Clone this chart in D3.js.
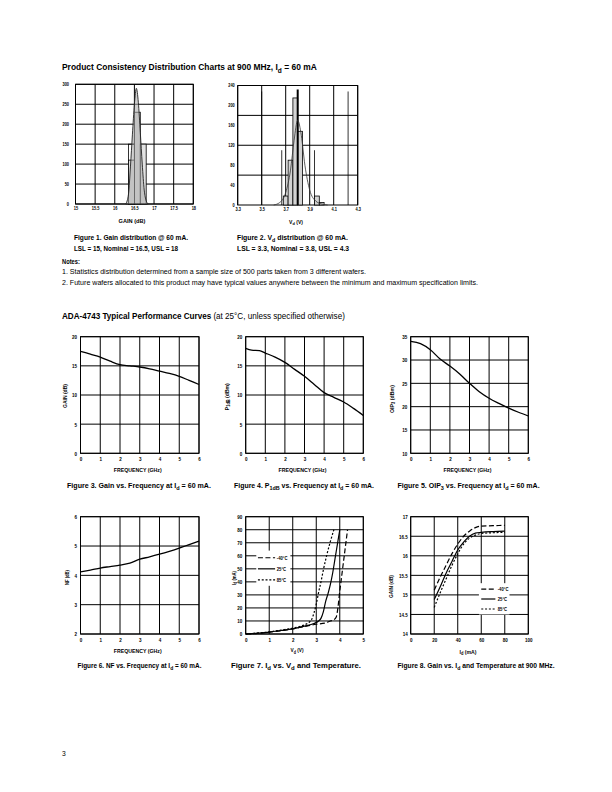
<!DOCTYPE html>
<html><head><meta charset="utf-8">
<script src="https://cdn.jsdelivr.net/npm/d3@7"></script>
<style>
body{margin:0;background:#fff}
svg{display:block}
</style></head><body>
<svg id="page" width="612" height="792"></svg>
<script>
// ---------- DATA ----------
// Figure 1: gain distribution
const gainBins = [[16.35,16.5,110],[16.5,16.65,230],[16.65,16.8,150]];
const gainOutlineBins = [[16.35,16.5,150]];
const gainCurve = [[16.28,0],[16.35,25],[16.40,95],[16.45,175],[16.50,250],[16.55,290],[16.60,255],[16.65,180],[16.70,100],[16.75,35],[16.80,8],[16.85,0]];
const gainXTicks = [15,15.5,16,16.5,17,17.5,18];
const gainYTicks = [0,50,100,150,200,250,300];
// Figure 2: Vd distribution
const vdBins = [[3.68,3.72,18],[3.72,3.76,90],[3.76,3.80,215],[3.80,3.84,148],[3.94,3.98,18],[3.98,4.02,5]];
const vdCurve = [[3.60,0],[3.65,5],[3.70,25],[3.74,70],[3.77,130],[3.80,170],[3.83,140],[3.86,80],[3.90,30],[3.95,8],[4.00,2],[4.05,0]];
const vdSpecLines = [[3.5,228],[3.667,110],[3.94,110],[4.22,228]];
const vdNominal = [[3.8,232]];
const vdXTicks = [3.3,3.5,3.7,3.9,4.1,4.3];
const vdYTicks = [0,40,80,120,160,200,240];
const vdYGrid = [60,120,180];
// Figures 3-6: vs frequency
const freqTicks = [0,1,2,3,4,5,6];
const gainVsFreq = [[0,17.5],[0.5,17.0],[1,16.5],[1.5,15.8],[2,15.2],[2.5,15.0],[3,14.8],[3.5,14.5],[4,14.1],[4.5,13.7],[5,13.2],[5.5,12.5],[6,11.8]];
const gainYTicksF3 = [0,5,10,15,20];
const p1dbVsFreq = [[0,18.0],[0.3,17.7],[0.7,17.6],[1,17.2],[1.5,16.5],[2,15.6],[2.5,14.4],[3,13.2],[3.5,11.8],[4,10.4],[4.5,9.6],[5,8.8],[5.5,7.7],[6,6.5]];
const p1dbYTicks = [0,5,10,15,20];
const oip3VsFreq = [[0,34.0],[0.5,33.5],[1,32.2],[1.5,30.2],[2,28.7],[2.5,27.0],[3,25.0],[3.5,23.2],[4,21.8],[4.5,20.7],[5,19.7],[5.5,18.8],[6,18.0]];
const oip3YTicks = [10,15,20,25,30,35];
const nfVsFreq = [[0,4.12],[0.5,4.18],[1,4.25],[1.5,4.3],[2,4.35],[2.5,4.42],[3,4.55],[3.5,4.63],[4,4.72],[4.5,4.82],[5,4.93],[5.5,5.05],[6,5.17]];
const nfYTicks = [2,3,4,5,6];
// Figure 7: Id vs Vd
const vdTicks = [0,1,2,3,4,5];
const idTicks = [0,10,20,30,40,50,60,70,80,90];
const idVdM40 = [[0,0],[0.5,0.5],[1,1.5],[1.5,2.5],[2,4],[2.5,5.8],[3,7.5],[3.4,8.5],[3.6,10],[3.75,11],[3.85,13],[3.92,20],[4.0,33],[4.05,40],[4.12,50],[4.19,60],[4.26,70],[4.33,80]];
const idVd25 = [[0,0],[0.5,0.6],[1,1.5],[1.5,2.7],[2,4],[2.5,6],[2.9,8],[3.1,10],[3.2,12],[3.3,17],[3.4,25],[3.5,31],[3.6,38],[3.7,47],[3.8,58],[3.9,69],[4.0,80]];
const idVd85 = [[0,0],[0.5,0.7],[1,1.6],[1.5,3],[2,4.5],[2.5,7],[2.7,9],[2.8,11],[2.9,16],[3.0,23],[3.1,32],[3.2,40],[3.3,49],[3.44,60],[3.6,71],[3.75,80]];
const tempLabels = ["-40°C","25°C","85°C"];
// Figure 8: Gain vs Id
const idXTicks = [0,20,40,60,80,100];
const gainIdYTicks = [14,14.5,15,15.5,16,16.5,17];
const gainIdM40 = [[20,15.12],[25,15.45],[30,15.75],[35,16.05],[40,16.3],[45,16.5],[50,16.63],[55,16.72],[60,16.76],[70,16.77],[80,16.78]];
const gainId25 = [[20,14.88],[25,15.2],[30,15.55],[35,15.85],[40,16.15],[45,16.35],[50,16.5],[55,16.58],[60,16.6],[70,16.62],[80,16.63]];
const gainId85 = [[20,14.68],[25,15.05],[30,15.4],[35,15.75],[40,16.05],[45,16.3],[50,16.45],[55,16.53],[60,16.57],[70,16.59],[80,16.6]];

// ---------- DRAWING ----------
const F = "'Liberation Sans', Arial, sans-serif";
const svg = d3.select('#page');

// text with optional horizontal condensing (sx) or a fitted width (w)
function rich(parent, x, y, parts, o) {
  const size = o.size, anchor = o.anchor || 'start';
  const t = parent.append('text').attr('font-family', F).attr('font-size', size)
    .attr('font-weight', o.weight || 'normal').attr('fill', '#000')
    .attr('text-anchor', anchor).attr('x', 0).attr('y', 0);
  parts.forEach(p => {
    const s = typeof p === 'string' ? {t: p} : p;
    const ts = t.append('tspan').text(s.t);
    if (s.sub) ts.attr('font-size', size * 0.78).attr('dy', size * 0.3);
    else if (s.back) ts.attr('dy', -size * 0.3);
    if (s.w) ts.attr('font-weight', s.w);
  });
  let sx = o.sx || 0.82;
  if (o.w) { const len = t.node().getComputedTextLength(); if (len > 0) sx = o.w / len; }
  t.attr('transform', `translate(${x},${y})` + (o.rotate ? ' rotate(-90)' : '') + ` scale(${sx},1)`);
  return t;
}
const sub = t => ({t, sub: true});
const back = t => ({t, back: true});

function chart(box, cfg) {
  const g = svg.append('g');
  const x = d3.scaleLinear().domain(cfg.xDomain).range([box.x0, box.x1]);
  const y = d3.scaleLinear().domain(cfg.yDomain).range([box.y1, box.y0]);
  g.selectAll(null).data(cfg.xGrid).join('line')
    .attr('x1', d => x(d)).attr('x2', d => x(d)).attr('y1', box.y0).attr('y2', box.y1)
    .attr('stroke', '#000').attr('stroke-width', 1);
  g.selectAll(null).data(cfg.yGrid).join('line')
    .attr('y1', d => y(d)).attr('y2', d => y(d)).attr('x1', box.x0).attr('x2', box.x1)
    .attr('stroke', '#000').attr('stroke-width', 1);
  g.append('rect').attr('x', box.x0).attr('y', box.y0).attr('width', box.x1 - box.x0)
    .attr('height', box.y1 - box.y0).attr('fill', 'none').attr('stroke', '#000').attr('stroke-width', 1);
  const fs = cfg.tickSize || 5.8, sx = cfg.tickSx || 0.78;
  const xPad = cfg.xPad || 3.5, yPad = cfg.yPad || 3.5;
  const xa = d3.axisBottom(x).tickValues(cfg.xTicks).tickSize(0).tickPadding(xPad)
    .tickFormat(cfg.xFmt || (d => d));
  const ya = d3.axisLeft(y).tickValues(cfg.yTicks).tickSize(0).tickPadding(yPad)
    .tickFormat(cfg.yFmt || (d => d));
  [[xa, `translate(0,${box.y1})`, false], [ya, 'translate(' + box.x0 + ',0)', true]].forEach(([a, tr, left]) => {
    const ag = g.append('g').attr('transform', tr).call(a);
    ag.select('.domain').remove();
    const txt = ag.selectAll('text').attr('font-family', F).attr('font-size', fs).attr('font-weight', 'bold')
      .attr('fill', '#000').attr('transform', `scale(${sx},1)`);
    if (left) txt.attr('x', -yPad / sx);
  });
  return {g, x, y};
}

function curve(c, data, dash, w) {
  c.g.append('path').datum(data)
    .attr('d', d3.line().x(d => c.x(d[0])).y(d => c.y(d[1])).curve(d3.curveMonotoneX))
    .attr('fill', 'none').attr('stroke', '#000').attr('stroke-width', w || 1.3)
    .attr('stroke-dasharray', dash || null);
}

const CAP = {size: 7.2, weight: 'bold'};
const AX = {size: 6, weight: 'bold'};

// ---- Heading ----
rich(svg, 62, 70, ['Product Consistency Distribution Charts at 900 MHz, I', sub('d'), back(' = 60 mA')], {size: 8.8, weight: 'bold', w: 255});

// ---- Figure 1 ----
{
  const box = {x0: 75.5, x1: 193.3, y0: 84.3, y1: 204};
  const c = chart(box, {xDomain: [15, 18], yDomain: [0, 300], xGrid: gainXTicks, yGrid: gainYTicks,
    xTicks: gainXTicks, yTicks: gainYTicks, tickSize: 4.6, tickSx: 0.85, xPad: 3, yPad: 6.5});
  c.g.selectAll(null).data(gainOutlineBins).join('rect')
    .attr('x', d => c.x(d[0])).attr('width', d => c.x(d[1]) - c.x(d[0]))
    .attr('y', d => c.y(d[2])).attr('height', d => c.y(0) - c.y(d[2]))
    .attr('fill', 'none').attr('stroke', '#000').attr('stroke-width', 0.8);
  c.g.selectAll(null).data(gainBins).join('rect')
    .attr('x', d => c.x(d[0])).attr('width', d => c.x(d[1]) - c.x(d[0]))
    .attr('y', d => c.y(d[2])).attr('height', d => c.y(0) - c.y(d[2]))
    .attr('fill', '#e2e2e2').attr('stroke', '#000').attr('stroke-width', 0.8);
  c.g.append('path').datum(gainCurve)
    .attr('d', d3.area().x(d => c.x(d[0])).y0(c.y(0)).y1(d => c.y(d[1])).curve(d3.curveMonotoneX))
    .attr('fill', '#aaa').attr('fill-opacity', 0.55).attr('stroke', '#222').attr('stroke-width', 0.9);
  rich(svg, 132, 223, ['GAIN (dB)'], {size: 5, weight: 'bold', anchor: 'middle', w: 27});
  rich(svg, 74, 240, ['Figure 1.  Gain distribution @ 60 mA.'], {...CAP, w: 114});
  rich(svg, 74, 250.5, ['LSL = 15, Nominal = 16.5, USL = 18'], {...CAP, w: 104});
}

// ---- Figure 2 ----
{
  const box = {x0: 237.7, x1: 357.7, y0: 85.5, y1: 205};
  const c = chart(box, {xDomain: [3.3, 4.3], yDomain: [0, 240], xGrid: vdXTicks, yGrid: vdYGrid,
    xTicks: vdXTicks, yTicks: vdYTicks, tickSize: 4.6, tickSx: 0.85, xPad: 3, yPad: 3, xFmt: d3.format('.1f')});
  c.g.selectAll(null).data(vdSpecLines).join('line')
    .attr('x1', d => c.x(d[0])).attr('x2', d => c.x(d[0])).attr('y1', d => c.y(d[1])).attr('y2', c.y(0))
    .attr('stroke', '#000').attr('stroke-width', 0.8);
  c.g.selectAll(null).data(vdBins).join('rect')
    .attr('x', d => c.x(d[0])).attr('width', d => c.x(d[1]) - c.x(d[0]))
    .attr('y', d => c.y(d[2])).attr('height', d => c.y(0) - c.y(d[2]))
    .attr('fill', '#d4d4d4').attr('stroke', '#000').attr('stroke-width', 0.8);
  c.g.selectAll(null).data(vdNominal).join('line')
    .attr('x1', d => c.x(d[0])).attr('x2', d => c.x(d[0])).attr('y1', d => c.y(d[1])).attr('y2', c.y(0))
    .attr('stroke', '#000').attr('stroke-width', 2);
  c.g.append('path').datum(vdCurve)
    .attr('d', d3.line().x(d => c.x(d[0])).y(d => c.y(d[1])).curve(d3.curveMonotoneX))
    .attr('fill', 'none').attr('stroke', '#333').attr('stroke-width', 0.8);
  rich(svg, 296, 223.5, ['V', sub('d'), back(' (V)')], {size: 5, weight: 'bold', anchor: 'middle', w: 14});
  rich(svg, 237, 240, ['Figure 2.  V', sub('d'), back(' distribution @ 60 mA.')], {...CAP, w: 111});
  rich(svg, 237, 250.5, ['LSL = 3.3, Nominal = 3.8, USL = 4.3'], {...CAP, w: 112});
}

// ---- Notes ----
rich(svg, 62, 263.5, ['Notes:'], {size: 6.8, weight: 'bold', sx: 0.85});
rich(svg, 62, 274, ['1.  Statistics distribution determined from a sample size of 500 parts taken from 3 different wafers.'], {size: 6.8, w: 304});
rich(svg, 62, 285, ['2.  Future wafers allocated to this product may have typical values anywhere between the minimum and maximum specification limits.'], {size: 6.8, w: 416});

rich(svg, 62, 319, [{t: 'ADA-4743 Typical Performance Curves', w: 'bold'}, ' (at 25°C, unless specified otherwise)'], {size: 8.6, w: 283});

// ---- Figures 3-6 ----
function freqChart(box, yDomain, yTicks, data, yTitle, yTitleX, yTitleY, yTitleW, caption, capX, capY, capW) {
  const c = chart(box, {xDomain: [0, 6], yDomain, xGrid: freqTicks, yGrid: yTicks,
    xTicks: freqTicks, yTicks, xPad: 4, yPad: 3.5});
  curve(c, data);
  rich(svg, (box.x0 + box.x1) / 2 - 2, box.y1 + 18.5, ['FREQUENCY (GHz)'], {...AX, anchor: 'middle', w: 48});
  rich(svg, yTitleX, yTitleY, yTitle, {...AX, anchor: 'middle', rotate: true, w: yTitleW});
  rich(svg, capX, capY, caption, {...CAP, w: capW});
}
freqChart({x0: 80.5, x1: 199, y0: 336.7, y1: 453.3}, [0, 20], gainYTicksF3, gainVsFreq,
  ['GAIN (dB)'], 66.5, 396, 24, ['Figure 3.  Gain vs. Frequency at I', sub('d'), back(' = 60 mA.')], 67, 487.5, 144);
freqChart({x0: 245.7, x1: 363.3, y0: 336.7, y1: 453.3}, [0, 20], p1dbYTicks, p1dbVsFreq,
  ['P', sub('1dB'), back(' (dBm)')], 228.5, 396.7, 27, ['Figure 4.  P', sub('1dB'), back(' vs. Frequency at I'), sub('d'), back(' = 60 mA.')], 234, 487.5, 140);
freqChart({x0: 410.7, x1: 528.3, y0: 336.7, y1: 453.3}, [10, 35], oip3YTicks, oip3VsFreq,
  ['OIP', sub('3'), back(' (dBm)')], 393.5, 399, 28, ['Figure 5.  OIP', sub('3'), back(' vs. Frequency at I'), sub('d'), back(' = 60 mA.')], 397.5, 487.5, 142);
freqChart({x0: 80.5, x1: 199, y0: 516.7, y1: 634}, [2, 6], nfYTicks, nfVsFreq,
  ['NF (dB)'], 68.5, 577.5, 15, ['Figure 6.  NF vs. Frequency at I', sub('d'), back(' = 60 mA.')], 77.5, 667.5, 124);

// ---- Figure 7 ----
{
  const box = {x0: 245.7, x1: 363.3, y0: 516.7, y1: 634};
  const c = chart(box, {xDomain: [0, 5], yDomain: [0, 90], xGrid: vdTicks, yGrid: idTicks,
    xTicks: vdTicks, yTicks: idTicks, xPad: 4, yPad: 3.5});
  const dashes = ['5,2.5', null, '2,1.8'];
  [idVdM40, idVd25, idVd85].forEach((d, i) => curve(c, d, dashes[i], 1.2));
  c.g.append('rect').attr('x', c.x(0.45)).attr('y', c.y(64)).attr('width', c.x(1.9) - c.x(0.45))
    .attr('height', c.y(37) - c.y(64)).attr('fill', '#fff');
  tempLabels.forEach((t, i) => {
    const yy = c.y(58.5 - i * 8.5);
    c.g.append('line').attr('x1', c.x(0.52)).attr('x2', c.x(1.25)).attr('y1', yy).attr('y2', yy)
      .attr('stroke', '#000').attr('stroke-width', 1.2).attr('stroke-dasharray', dashes[i]);
    rich(c.g, c.x(1.32), yy + 2, [t], {size: 5.6, weight: 'bold', sx: 0.75});
  });
  rich(svg, 297, box.y1 + 18, ['V', sub('d'), back(' (V)')], {...AX, anchor: 'middle', w: 13});
  rich(svg, 235.5, 578, ['I', sub('d'), back(' (mA)')], {...AX, anchor: 'middle', rotate: true, w: 14});
  rich(svg, 231, 667.5, ['Figure 7.  I', sub('d'), back(' vs. V'), sub('d'), back(' and Temperature.')], {...CAP, w: 130});
}

// ---- Figure 8 ----
{
  const box = {x0: 410.7, x1: 528.3, y0: 516.7, y1: 634};
  const c = chart(box, {xDomain: [0, 100], yDomain: [14, 17], xGrid: idXTicks, yGrid: gainIdYTicks,
    xTicks: idXTicks, yTicks: gainIdYTicks, xPad: 4, yPad: 3});
  const dashes = ['5,2.5', null, '2,1.8'];
  [gainIdM40, gainId25, gainId85].forEach((d, i) => curve(c, d, dashes[i], 1.2));
  c.g.append('rect').attr('x', c.x(58)).attr('y', c.y(15.3)).attr('width', c.x(84) - c.x(58))
    .attr('height', c.y(14.5) - c.y(15.3)).attr('fill', '#fff');
  tempLabels.forEach((t, i) => {
    const yy = c.y(15.15 - i * 0.255);
    c.g.append('line').attr('x1', c.x(60)).attr('x2', c.x(72)).attr('y1', yy).attr('y2', yy)
      .attr('stroke', '#000').attr('stroke-width', 1.2).attr('stroke-dasharray', dashes[i]);
    rich(c.g, c.x(74), yy + 2, [t], {size: 5.6, weight: 'bold', sx: 0.75});
  });
  rich(svg, 468, box.y1 + 19.5, ['I', sub('d'), back(' (mA)')], {...AX, anchor: 'middle', w: 17});
  rich(svg, 393, 586.5, ['GAIN (dB)'], {...AX, anchor: 'middle', rotate: true, w: 23});
  rich(svg, 397.5, 667.5, ['Figure 8.  Gain vs. I', sub('d'), back(' and Temperature at 900 MHz.')], {...CAP, w: 157});
}

// page number
rich(svg, 62, 756, ['3'], {size: 7.5, sx: 0.9});
</script>
</body></html>
